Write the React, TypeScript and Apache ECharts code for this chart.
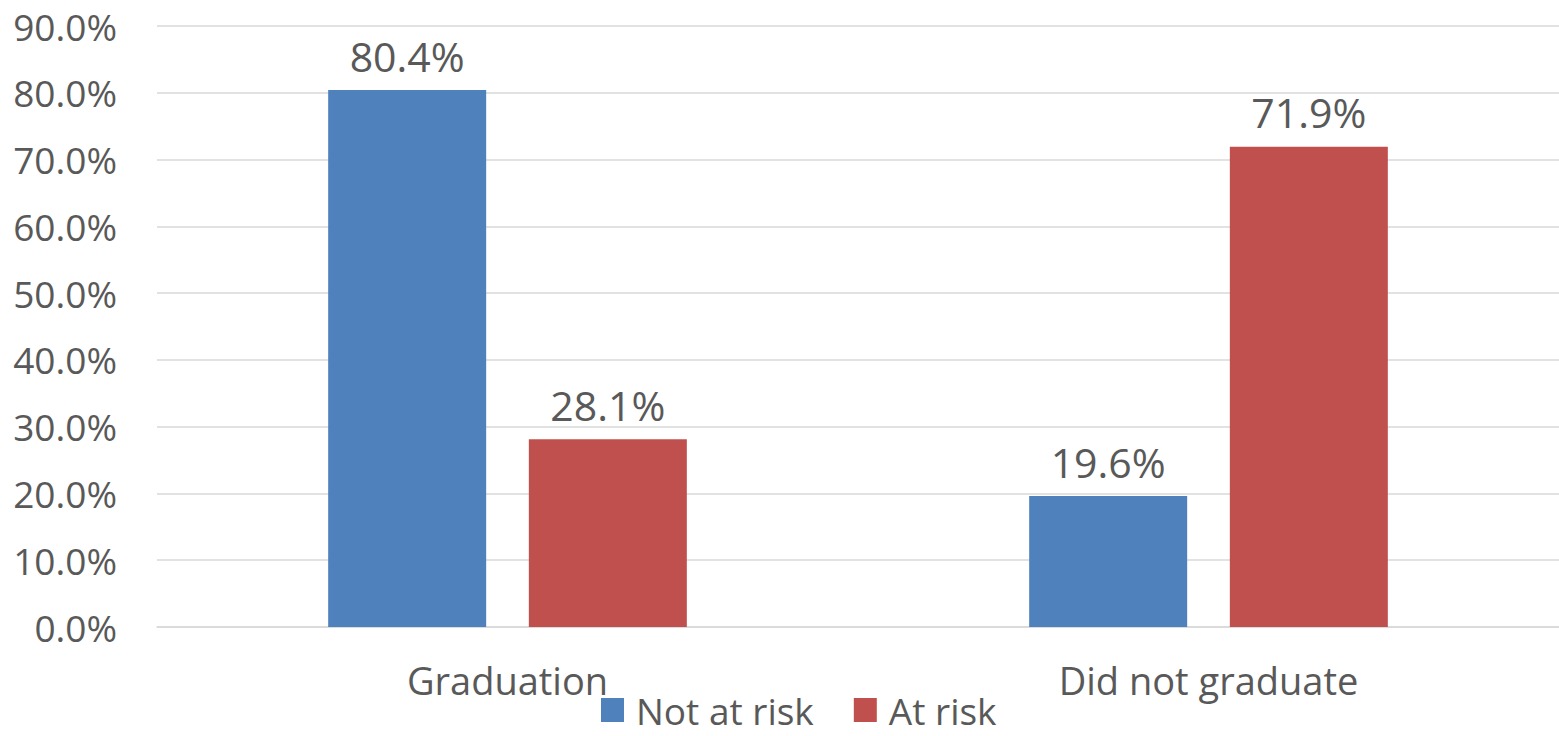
import React, { useEffect, useRef } from "react";
import * as echarts from "echarts";

const categories = ["Graduation", "Did not graduate"];
const notAtRisk = [80.4, 19.6];
const atRisk = [28.1, 71.9];
const seriesNames = ["Not at risk", "At risk"];

export default function App() {
  const ref = useRef<HTMLDivElement>(null);
  useEffect(() => {
    if (!ref.current) return;
    const chart = echarts.init(ref.current, undefined, { renderer: "svg" });
    const font = "'Open Sans', sans-serif";
    const text = "#595959";
    const labelCfg = {
      show: true,
      position: "top",
      distance: 14,
      fontSize: 41,
      color: text,
      fontFamily: font,
      formatter: (p: any) => p.value.toFixed(1) + "%",
    };
    chart.setOption({
      animation: false,
      textStyle: { fontFamily: font },
      grid: { left: 157, right: 0, top: 26, bottom: 109, containLabel: false },
      legend: {
        top: 691,
        left: 601,
        padding: 0,
        icon: "rect",
        itemWidth: 23,
        itemHeight: 24,
        itemGap: 40,
        textStyle: { fontSize: 37, color: text, fontFamily: font, lineHeight: 38, padding: [0, 0, 0, 7] },
        data: seriesNames,
      },
      xAxis: {
        type: "category",
        data: categories,
        axisLine: { lineStyle: { color: "#D9D9D9", width: 1.5 } },
        axisTick: { show: false },
        axisLabel: { fontSize: 38, color: text, margin: 34, fontFamily: font },
      },
      yAxis: {
        type: "value",
        min: 0,
        max: 90,
        interval: 10,
        axisLine: { show: false },
        axisTick: { show: false },
        splitLine: { lineStyle: { color: "#D9D9D9", width: 1.5 } },
        axisLabel: {
          fontSize: 37,
          color: text,
          margin: 40,
          fontFamily: font,
          formatter: (v: number) => v.toFixed(1) + "%",
        },
      },
      series: [
        {
          name: seriesNames[0],
          type: "bar",
          data: notAtRisk,
          barWidth: 158,
          barGap: "27%",
          itemStyle: { color: "#4F81BD" },
          label: labelCfg,
        },
        {
          name: seriesNames[1],
          type: "bar",
          data: atRisk,
          barWidth: 158,
          barGap: "27%",
          itemStyle: { color: "#C0504D" },
          label: labelCfg,
        },
      ],
    });
    return () => chart.dispose();
  }, []);
  return (
    <div
      ref={ref}
      style={{ position: "absolute", left: 0, top: 0, width: 1559, height: 736 }}
    />
  );
}
